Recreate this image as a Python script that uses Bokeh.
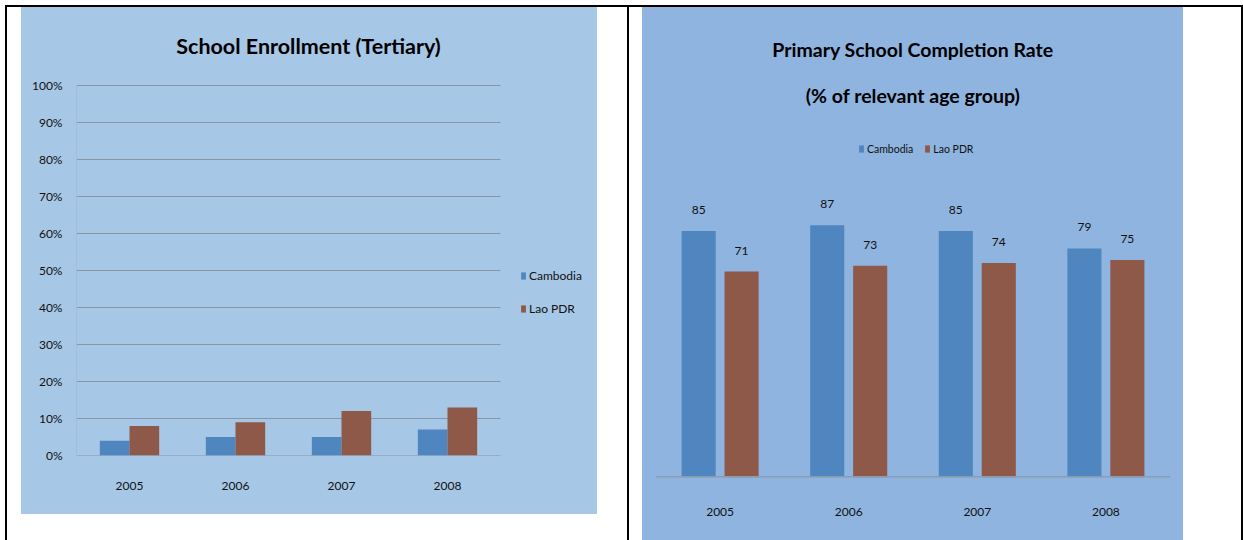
from bokeh.plotting import figure
from bokeh.models import (FactorRange, Range1d, FixedTicker, PrintfTickFormatter, Legend,
                          LegendItem, Label, ColumnDataSource, Div, Spacer)
from bokeh.layouts import row, column
from bokeh.transform import dodge
from bokeh.core.properties import value
from bokeh.embed import file_html
from bokeh.resources import INLINE

# ---------------- data ----------------
years = ["2005", "2006", "2007", "2008"]
series = ["Cambodia", "Lao PDR"]
tertiary_cambodia = [4, 5, 5, 7]
tertiary_lao = [8, 9, 12, 13]
completion_cambodia = [85, 87, 85, 79]
completion_lao = [71, 73, 74, 75]
pct_ticks = [0, 10, 20, 30, 40, 50, 60, 70, 80, 90, 100]
left_title = "School Enrollment (Tertiary)"
right_title = ["Primary School Completion Rate", "(% of relevant age group)"]

# ---------------- style ----------------
FONT = "Lato"
BLUE = "#4F86C0"
BROWN = "#8F5949"
LEFT_BG = "#A7C7E6"
RIGHT_BG = "#8EB4DF"
TXT = "#111111"
GRID = "#8796A6"

# ---------------- left chart (numeric category slots) ----------------
n = len(years)
slots = [i + 0.5 for i in range(n)]
src_l = ColumnDataSource(dict(pos=slots, cam=tertiary_cambodia, lao=tertiary_lao))
pl = figure(x_range=Range1d(0, 4.915), y_range=Range1d(0, 121.08),
            width=576, height=507, title=None, output_backend="svg",
            toolbar_location=None, tools="",
            min_border_left=55, min_border_right=0, min_border_top=0, min_border_bottom=59,
            background_fill_color=None, border_fill_color=None,
            outline_line_color=None, margin=0,
            styles={"background-color": LEFT_BG})
# horizontal gridlines (incl. 0% baseline) and faint vertical axis line
pl.segment(x0=0, x1=n, y0=pct_ticks, y1=pct_ticks, line_color=GRID, line_width=1)
pl.segment(x0=[0], x1=[0], y0=[pct_ticks[0]], y1=[pct_ticks[-1]], line_color="#9DB4CB", line_width=1)
r1 = pl.vbar(x=dodge("pos", -0.14), top="cam", width=0.28,
             source=src_l, fill_color=BLUE, line_color=None)
r2 = pl.vbar(x=dodge("pos", 0.14), top="lao", width=0.28,
             source=src_l, fill_color=BROWN, line_color=None)

pl.grid.grid_line_color = None
pl.yaxis.ticker = FixedTicker(ticks=pct_ticks)
pl.yaxis.formatter = PrintfTickFormatter(format="%d%%")
pl.yaxis.major_tick_line_color = None
pl.yaxis.minor_tick_line_color = None
pl.yaxis.axis_line_color = None
pl.yaxis.major_label_standoff = 8
pl.yaxis.major_label_text_font = FONT
pl.yaxis.major_label_text_font_size = "12px"
pl.yaxis.major_label_text_color = TXT

pl.xaxis.ticker = FixedTicker(ticks=slots)
pl.xaxis.major_label_overrides = {s: y for s, y in zip(slots, years)}
pl.xaxis.axis_line_color = None
pl.xaxis.major_tick_line_color = None
pl.xaxis.minor_tick_line_color = None
pl.xaxis.major_label_standoff = 20
pl.xaxis.major_label_text_font = FONT
pl.xaxis.major_label_text_font_size = "12px"
pl.xaxis.major_label_text_color = TXT

leg_l = Legend(items=[LegendItem(label=series[0], renderers=[r1]),
                      LegendItem(label=series[1], renderers=[r2])],
               location=(444, 139), orientation="vertical",
               glyph_width=6, glyph_height=9, label_standoff=3, label_height=14,
               spacing=18, padding=0, margin=0, border_line_color=None,
               background_fill_alpha=0, label_text_font=FONT,
               label_text_font_size="12px", label_text_color=TXT)
pl.add_layout(leg_l)

pl.add_layout(Label(x=232, y=409.5, x_units="screen", y_units="screen", text=left_title,
                    text_align="center", text_baseline="middle", text_font=FONT,
                    text_font_size="21.5px", text_font_style="bold", text_color="#000000"))

# ---------------- right chart ----------------
src_r = ColumnDataSource(dict(year=years, cam=completion_cambodia, lao=completion_lao,
                              cam_s=[str(v) for v in completion_cambodia],
                              lao_s=[str(v) for v in completion_lao]))
pr = figure(x_range=FactorRange(factors=years, range_padding=0.1035,
                                range_padding_units="absolute"),
            y_range=Range1d(0, 162.07),
            width=541, height=533, title=None, output_backend="svg",
            toolbar_location=None, tools="",
            min_border_left=0, min_border_right=0, min_border_top=0, min_border_bottom=63,
            background_fill_color=None, border_fill_color=None,
            outline_line_color=None, margin=0,
            styles={"background-color": RIGHT_BG})
q1 = pr.vbar(x=dodge("year", -0.167, range=pr.x_range), top="cam", width=0.265,
             source=src_r, fill_color=BLUE, line_color=None)
q2 = pr.vbar(x=dodge("year", 0.167, range=pr.x_range), top="lao", width=0.265,
             source=src_r, fill_color=BROWN, line_color=None)
# category axis baseline, spanning the four category slots only
pr.segment(x0=[0], x1=[n], y0=[0], y1=[0], line_color="#8C9DB0", line_width=3)
pr.text(x=dodge("year", -0.167, range=pr.x_range), y="cam", text="cam_s", source=src_r,
        text_align="center", text_baseline="middle", y_offset=-21,
        text_font=value(FONT), text_font_size="12px", text_color=TXT)
pr.text(x=dodge("year", 0.167, range=pr.x_range), y="lao", text="lao_s", source=src_r,
        text_align="center", text_baseline="middle", y_offset=-21,
        text_font=value(FONT), text_font_size="12px", text_color=TXT)

pr.yaxis.visible = False
pr.grid.grid_line_color = None
pr.xaxis.axis_line_color = None
pr.xaxis.major_tick_line_color = None
pr.xaxis.minor_tick_line_color = None
pr.xaxis.major_label_standoff = 24
pr.xaxis.major_label_text_font = FONT
pr.xaxis.major_label_text_font_size = "12px"
pr.xaxis.major_label_text_color = TXT

leg_r = Legend(items=[LegendItem(label=series[0], renderers=[q1]),
                      LegendItem(label=series[1], renderers=[q2])],
               location=(216, 322), orientation="horizontal",
               glyph_width=6, glyph_height=9, label_standoff=3, label_height=13,
               spacing=11, padding=0, margin=0, border_line_color=None,
               background_fill_alpha=0, label_text_font=FONT,
               label_text_font_size="10.5px", label_text_color=TXT)
pr.add_layout(leg_r)

pr.add_layout(Label(x=270.5, y=428.5, x_units="screen", y_units="screen", text=right_title[0],
                    text_align="center", text_baseline="middle", text_font=FONT,
                    text_font_size="19.5px", text_font_style="bold", text_color="#000000"))
pr.add_layout(Label(x=270.5, y=382, x_units="screen", y_units="screen", text=right_title[1],
                    text_align="center", text_baseline="middle", text_font=FONT,
                    text_font_size="19.5px", text_font_style="bold", text_color="#000000"))

# ---------------- page / table layout ----------------
def line(w, h):
    return Div(text="", width=w, height=h, margin=0,
               styles={"background-color": "#000000"})

body = row(
    Spacer(width=5, height=533), line(2, 533), Spacer(width=14, height=533),
    column(pl, Spacer(width=576, height=26)),
    Spacer(width=30, height=533), line(2, 533), Spacer(width=13, height=533),
    pr,
    Spacer(width=58, height=533), line(2, 533),
)
page = column(
    Spacer(width=1243, height=5),
    row(Spacer(width=5, height=2), line(1238, 2)),
    body,
)

open("out.html", "w").write(file_html(page, INLINE))
